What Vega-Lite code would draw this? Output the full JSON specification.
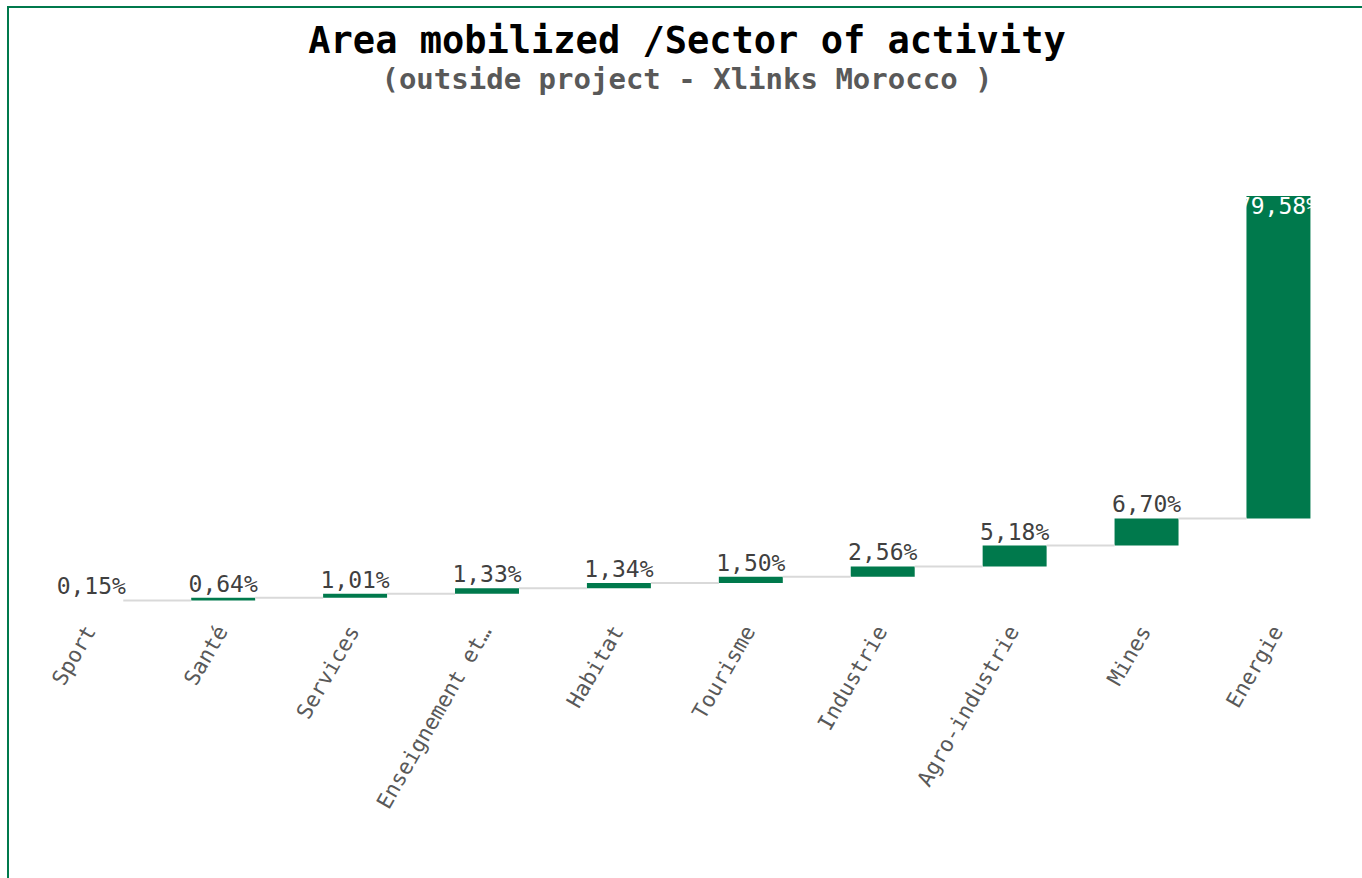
{
  "$schema": "https://vega.github.io/schema/vega-lite/v6.json",
  "autosize": {"type": "none"},
  "width": 1358,
  "height": 875,
  "padding": {"left": 8, "top": 7, "right": 0, "bottom": 0},
  "background": "white",
  "config": {
    "view": {"stroke": "#00794C", "strokeWidth": 2},
    "locale": {"number": {"decimal": ",", "thousands": ".", "grouping": [3], "currency": ["", " €"]}}
  },
  "title": {
    "text": "Area mobilized /Sector of activity",
    "subtitle": "(outside project - Xlinks Morocco )",
    "anchor": "middle",
    "frame": "bounds",
    "offset": -89,
    "font": "DejaVu Sans Mono",
    "fontSize": 37,
    "fontWeight": "bold",
    "color": "#000000",
    "subtitleFont": "DejaVu Sans Mono",
    "subtitleFontSize": 29,
    "subtitleFontWeight": "bold",
    "subtitleColor": "#595959",
    "subtitlePadding": 5
  },
  "data": {
    "values": [
      {"sector": "Sport", "share": 0.0015},
      {"sector": "Santé", "share": 0.0064},
      {"sector": "Services", "share": 0.0101},
      {"sector": "Enseignement et…", "share": 0.0133},
      {"sector": "Habitat", "share": 0.0134},
      {"sector": "Tourisme", "share": 0.0150},
      {"sector": "Industrie", "share": 0.0256},
      {"sector": "Agro-industrie", "share": 0.0518},
      {"sector": "Mines", "share": 0.0670},
      {"sector": "Energie", "share": 0.7958}
    ]
  },
  "transform": [
    {"window": [{"op": "sum", "field": "share", "as": "end"}, {"op": "lead", "field": "sector", "as": "next"}], "frame": [null, 0], "ignorePeers": true},
    {"window": [{"op": "sum", "field": "share", "as": "start"}], "frame": [null, -1], "ignorePeers": true}
  ],
  "encoding": {
    "x": {
      "field": "sector",
      "type": "nominal",
      "sort": null,
      "scale": {
        "domain": ["Sport", "Santé", "Services", "Enseignement et…", "Habitat", "Tourisme", "Industrie", "Agro-industrie", "Mines", "Energie"],
        "paddingInner": 0.515,
        "paddingOuter": 0.405,
        "align": 0.48
      },
      "axis": null
    }
  },
  "layer": [
    {
      "mark": {"type": "bar", "color": "#00794C"},
      "encoding": {
        "y": {"field": "start", "type": "quantitative", "scale": {"domain": [-0.6937, 1.4667], "nice": false, "zero": false}, "axis": null},
        "y2": {"field": "end"}
      }
    },
    {
      "transform": [{"filter": "datum.next != null"}],
      "mark": {"type": "rule", "color": "#D9D9D9", "strokeWidth": 2},
      "encoding": {
        "x": {"field": "sector", "type": "nominal", "bandPosition": 1, "sort": null},
        "x2": {"field": "next", "bandPosition": 0},
        "y": {"field": "end", "type": "quantitative", "scale": {"domain": [-0.6937, 1.4667], "nice": false, "zero": false}, "axis": null}
      }
    },
    {
      "transform": [{"filter": "datum.sector != 'Energie'"}],
      "mark": {"type": "text", "font": "DejaVu Sans Mono", "fontSize": 23, "color": "#404040", "baseline": "bottom", "dy": -1},
      "encoding": {
        "y": {"field": "end", "type": "quantitative", "scale": {"domain": [-0.6937, 1.4667], "nice": false, "zero": false}, "axis": null},
        "text": {"field": "share", "type": "quantitative", "format": ".2%"}
      }
    },
    {
      "transform": [{"filter": "datum.sector == 'Energie'"}],
      "mark": {"type": "text", "font": "DejaVu Sans Mono", "fontSize": 23, "color": "#FFFFFF", "baseline": "top", "dy": 0},
      "encoding": {
        "y": {"field": "end", "type": "quantitative", "scale": {"domain": [-0.6937, 1.4667], "nice": false, "zero": false}, "axis": null},
        "text": {"field": "share", "type": "quantitative", "format": ".2%"}
      }
    },
    {
      "mark": {"type": "text", "font": "DejaVu Sans Mono", "fontSize": 21.5, "color": "#595959", "angle": 300, "align": "right", "baseline": "middle", "yOffset": 27},
      "encoding": {
        "y": {"datum": 0, "type": "quantitative", "scale": {"domain": [-0.6937, 1.4667], "nice": false, "zero": false}, "axis": null},
        "text": {"field": "sector", "type": "nominal"}
      }
    }
  ]
}
